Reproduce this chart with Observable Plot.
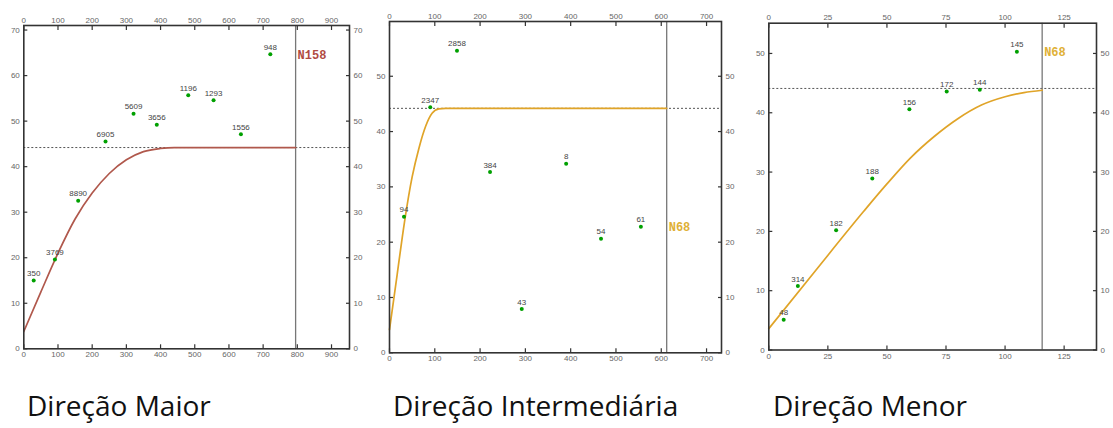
<!DOCTYPE html>
<html><head><meta charset="utf-8">
<script src="https://cdn.jsdelivr.net/npm/d3@7"></script>
<script src="https://cdn.jsdelivr.net/npm/@observablehq/plot@0.6"></script>
<style>
body{margin:0;background:#fff;}
#wrap{position:relative;width:1113px;height:428px;overflow:hidden;background:#fff}
.panel{position:absolute;top:0}
.title{position:absolute;top:391px;font-family:"Open Sans";font-size:28px;line-height:28px;color:#111;white-space:nowrap}
</style></head><body><div id="wrap"></div>
<script>
// ---- Data ----
const titles = ["Direção Maior", "Direção Intermediária", "Direção Menor"];

// Direção Maior
const maiorLag   = [29, 91, 159, 239, 321, 389, 481, 555, 635, 721];
const maiorGamma = [15.0, 19.6, 32.5, 45.5, 51.6, 49.2, 55.7, 54.6, 47.1, 64.7];
const maiorPairs = ["350", "3769", "8890", "6905", "5609", "3656", "1196", "1293", "1556", "948"];
const maiorModelLag   = [0, 50, 100, 150, 200, 250, 300, 350, 400, 440, 795];
const maiorModelGamma = [3.8, 12.5, 21.0, 28.5, 34.2, 38.5, 41.5, 43.3, 44.0, 44.2, 44.2];
const maiorSill = 44.2, maiorRange = 795, maiorLabel = "N158";

// Direção Intermediária
const interLag   = [32, 90, 149, 222, 292, 390, 467, 555];
const interGamma = [24.6, 44.4, 54.6, 32.7, 7.9, 34.2, 20.6, 22.8];
const interPairs = ["94", "2347", "2858", "384", "43", "8", "54", "61"];
const interModelLag   = [0, 17, 33, 50, 65, 80, 94, 109, 124, 612];
const interModelGamma = [4.2, 14.2, 23.6, 31.8, 37.0, 41.0, 43.3, 44.1, 44.2, 44.2];
const interSill = 44.2, interRange = 612, interLabel = "N68";

// Direção Menor
const menorLag   = [6.3, 12.3, 28.5, 43.8, 59.5, 75.3, 89.3, 105];
const menorGamma = [5.1, 10.8, 20.2, 28.9, 40.6, 43.6, 43.9, 50.3];
const menorPairs = ["48", "314", "182", "188", "156", "172", "144", "145"];
const menorModelLag   = [0, 20, 40, 50, 60, 70, 80, 90, 100, 108, 115.7];
const menorModelGamma = [3.6, 13.5, 23.3, 28.0, 32.4, 36.0, 39.0, 41.3, 42.7, 43.4, 43.8];
const menorSill = 44.1, menorRange = 115.7, menorLabel = "N68";

const xTicksMaior = [0,100,200,300,400,500,600,700,800,900];
const yTicksMaior = [0,10,20,30,40,50,60,70];
const xTicksInter = [0,100,200,300,400,500,600,700];
const yTicksInter = [0,10,20,30,40,50];
const xTicksMenor = [0,25,50,75,100,125];
const yTicksMenor = [0,10,20,30,40,50];

// ---- Build ----
const panels = [
  {left:0, width:372, mL:23.3, mR:23, mT:25, mB:21.7, xMax:952.6, yMax:71,
   lag:maiorLag, gamma:maiorGamma, pairs:maiorPairs, mLag:maiorModelLag, mGamma:maiorModelGamma,
   sill:maiorSill, range:maiorRange, label:maiorLabel, labelY:64.5, color:"#b0584c", labelColor:"#b04a42",
   xTicks:xTicksMaior, yTicks:yTicksMaior, titleX:27},
  {left:370, width:372, mL:19, mR:21, mT:21, mB:17.7, xMax:733, yMax:59.9,
   lag:interLag, gamma:interGamma, pairs:interPairs, mLag:interModelLag, mGamma:interModelGamma,
   sill:interSill, range:interRange, label:interLabel, labelY:22.8, color:"#e0a428", labelColor:"#e0b035",
   xTicks:xTicksInter, yTicks:yTicksInter, titleX:393},
  {left:742, width:371, mL:26.3, mR:17, mT:22.7, mB:20.5, xMax:138.7, yMax:55.1,
   lag:menorLag, gamma:menorGamma, pairs:menorPairs, mLag:menorModelLag, mGamma:menorModelGamma,
   sill:menorSill, range:menorRange, label:menorLabel, labelY:50.2, color:"#e0a428", labelColor:"#e0b035",
   xTicks:xTicksMenor, yTicks:yTicksMenor, titleX:773}
];

const wrap = document.getElementById("wrap");
const axisStyle = {fontSize: 8, fill: "#666", stroke: "#333", strokeWidth: 1.2, label: null};

panels.forEach((p, i) => {
  const pts = p.lag.map((x, j) => ({x, y: p.gamma[j], t: p.pairs[j]}));
  const model = p.mLag.map((x, j) => ({x, y: p.mGamma[j]}));
  const chart = Plot.plot({
    width: p.width, height: 370,
    marginLeft: p.mL, marginRight: p.mR, marginTop: p.mT, marginBottom: p.mB,
    style: {fontFamily: "Liberation Sans", background: "transparent"},
    x: {domain: [0, p.xMax], nice: false},
    y: {domain: [0, p.yMax], nice: false},
    marks: [
      Plot.ruleY([p.sill], {stroke: "#555", strokeWidth: 1, strokeDasharray: "2,2"}),
      Plot.ruleX([p.range], {stroke: "#777", strokeWidth: 1.3}),
      Plot.line(model, {x: "x", y: "y", stroke: p.color, strokeWidth: 1.7, curve: "monotone-x"}),
      Plot.dot(pts, {x: "x", y: "y", r: 2, fill: "#00a000"}),
      Plot.text(pts, {x: "x", y: "y", text: "t", dy: -7, fontSize: 8, fill: "#444"}),
      Plot.text([p.label], {x: () => p.range, y: () => p.labelY, text: d => d, dx: 2, textAnchor: "start",
        fontFamily: "Liberation Mono", fontWeight: "bold", fontSize: 12, fill: p.labelColor}),
      Plot.axisX({anchor: "bottom", ticks: p.xTicks, tickSize: -4, tickPadding: 7, ...axisStyle}),
      Plot.axisX({anchor: "top", ticks: p.xTicks, tickSize: -4, tickPadding: 7, ...axisStyle}),
      Plot.axisY({anchor: "left", ticks: p.yTicks, tickSize: -4, tickPadding: 8, ...axisStyle}),
      Plot.axisY({anchor: "right", ticks: p.yTicks, tickSize: -4, tickPadding: 8, ...axisStyle}),
      Plot.frame({stroke: "#333", strokeWidth: 1.6})
    ]
  });
  chart.classList.add("panel");
  chart.style.left = p.left + "px";
  wrap.appendChild(chart);
  const t = document.createElement("div");
  t.className = "title";
  t.style.left = p.titleX + "px";
  t.textContent = titles[i];
  wrap.appendChild(t);
});
</script>
</body></html>
